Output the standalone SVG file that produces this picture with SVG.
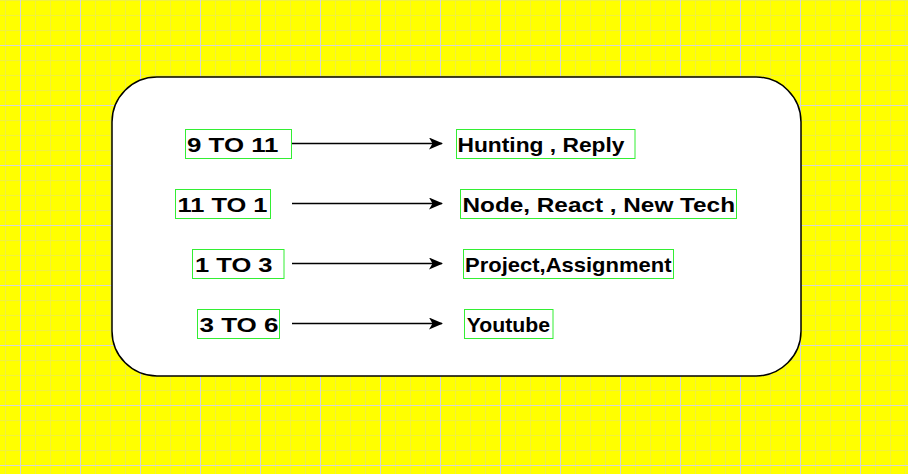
<svg xmlns="http://www.w3.org/2000/svg" width="908" height="474" viewBox="0 0 908 474">
  <defs>
    <pattern id="minor" x="5" y="0" width="15" height="15" patternUnits="userSpaceOnUse">
      <rect x="0" y="0" width="1" height="15" fill="#f0f040"/>
      <rect x="0" y="0" width="15" height="1" fill="#f0f040"/>
    </pattern>
    <pattern id="major" x="20" y="45" width="60" height="60" patternUnits="userSpaceOnUse">
      <rect x="0" y="0" width="1" height="60" fill="#d6d6d6"/>
      <rect x="0" y="0" width="60" height="1" fill="#d6d6d6"/>
    </pattern>
    <marker id="arrow" viewBox="0 0 14 12" refX="13" refY="6" markerWidth="14" markerHeight="12" markerUnits="userSpaceOnUse" orient="auto">
      <path d="M0,0 L14,6 L0,12 L3.5,6 Z" fill="#000"/>
    </marker>
  </defs>
  <style>
    .box { fill: none; stroke: #33ee33; stroke-width: 1; }
    .lbl { font-family: "Liberation Sans", Arial, sans-serif; font-size: 21px; font-weight: bold; fill: #000; }
    .edge { stroke: #000; stroke-width: 1.5; fill: none; marker-end: url(#arrow); }
  </style>
  <rect x="0" y="0" width="908" height="474" fill="#ffff00"/>
  <rect x="0" y="0" width="908" height="474" fill="url(#minor)"/>
  <rect x="0" y="0" width="908" height="474" fill="url(#major)"/>

  <g id="container">
    <rect x="112" y="77" width="689" height="299" rx="45" ry="45" fill="#fff" stroke="#000" stroke-width="1.5"/>
  </g>

  <g id="node-9to11">
    <rect class="box" x="185.5" y="129.5" width="106" height="29"/>
    <text class="lbl" x="187" y="151.7" textLength="91.5" lengthAdjust="spacingAndGlyphs">9 TO 11</text>
  </g>
  <g id="node-11to1">
    <rect class="box" x="175.5" y="189.5" width="95" height="29"/>
    <text class="lbl" x="177.5" y="211.7" textLength="90" lengthAdjust="spacingAndGlyphs">11 TO 1</text>
  </g>
  <g id="node-1to3">
    <rect class="box" x="192.5" y="249.5" width="91.5" height="29"/>
    <text class="lbl" x="195" y="271.7" textLength="77.5" lengthAdjust="spacingAndGlyphs">1 TO 3</text>
  </g>
  <g id="node-3to6">
    <rect class="box" x="197.5" y="309.5" width="82" height="29"/>
    <text class="lbl" x="199.5" y="331.7" textLength="79" lengthAdjust="spacingAndGlyphs">3 TO 6</text>
  </g>

  <g id="node-hunting">
    <rect class="box" x="456.5" y="129.5" width="178.5" height="29"/>
    <text class="lbl" x="457.5" y="151.7" textLength="167" lengthAdjust="spacingAndGlyphs">Hunting , Reply</text>
  </g>
  <g id="node-node">
    <rect class="box" x="460.5" y="189.5" width="276" height="29"/>
    <text class="lbl" x="462.5" y="211.7" textLength="272.5" lengthAdjust="spacingAndGlyphs">Node, React , New Tech</text>
  </g>
  <g id="node-project">
    <rect class="box" x="463.5" y="249.5" width="210" height="29"/>
    <text class="lbl" x="465" y="271.7" textLength="206.5" lengthAdjust="spacingAndGlyphs">Project,Assignment</text>
  </g>
  <g id="node-youtube">
    <rect class="box" x="464.5" y="309.5" width="88.5" height="29"/>
    <text class="lbl" x="466.7" y="331.7" textLength="83.3" lengthAdjust="spacingAndGlyphs">Youtube</text>
  </g>

  <g id="connectors">
    <line class="edge" x1="292" y1="143.5" x2="442" y2="143.5"/>
    <line class="edge" x1="292" y1="203.5" x2="442" y2="203.5"/>
    <line class="edge" x1="292" y1="263.5" x2="442" y2="263.5"/>
    <line class="edge" x1="292" y1="323.5" x2="442" y2="323.5"/>
  </g>
</svg>
